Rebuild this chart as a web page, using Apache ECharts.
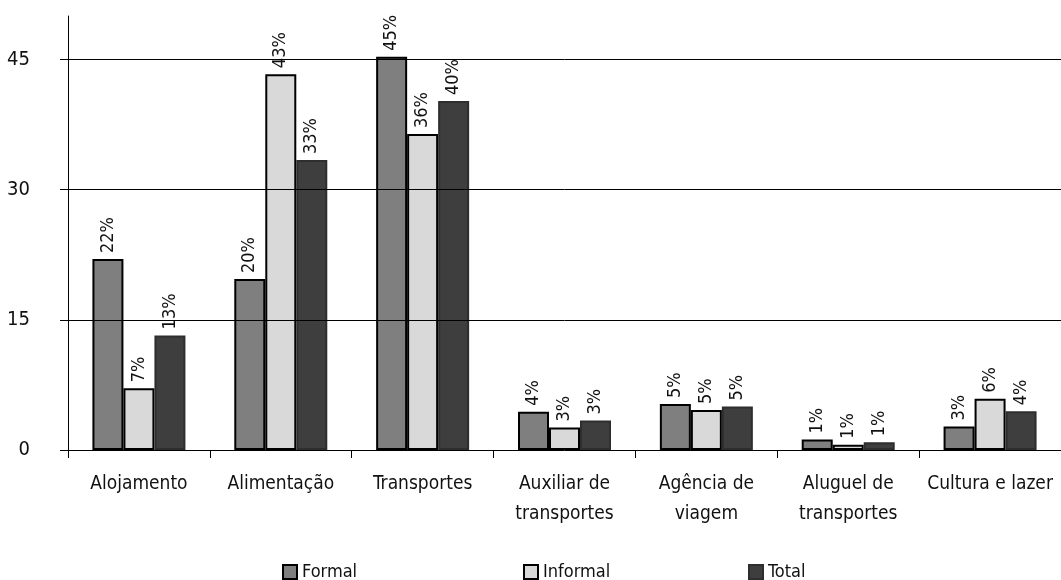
<!DOCTYPE html>
<html>
<head>
<meta charset="utf-8">
<script src="https://cdn.jsdelivr.net/npm/echarts@6/dist/echarts.min.js"></script>
<style>
  html, body { margin: 0; padding: 0; background: #fff; }
  #chart { width: 1061px; height: 580px; }
</style>
</head>
<body>
<div id="chart"></div>
<script>
// Share of tourism employment by activity (%)
const categories = [
  'Alojamento', 'Alimentação', 'Transportes', 'Auxiliar de\ntransportes',
  'Agência de\nviagem', 'Aluguel de\ntransportes', 'Cultura e lazer'
];
const formal   = [22.0, 19.7, 45.3, 4.4, 5.3, 1.2, 2.7];
const informal = [7.1, 43.3, 36.4, 2.6, 4.6, 0.6, 5.9];
const total    = [13.2, 33.4, 40.2, 3.4, 5.0, 0.9, 4.45];
const yTicks   = [0, 15, 30, 45];

const FONT = "'Liberation Sans Narrow', 'DejaVu Sans Condensed', 'Noto Sans', sans-serif";

const chart = echarts.init(document.getElementById('chart'));

const pctLabel = {
  show: true,
  position: 'top',
  rotate: 90,
  align: 'left',
  verticalAlign: 'middle',
  distance: 6,
  fontFamily: FONT,
  fontSize: 18,
  color: '#111',
  formatter: p => Math.round(p.value) + '%'
};

function barSeries(name, data, fill, border) {
  return {
    name: name,
    type: 'bar',
    data: data,
    barWidth: 31,
    barGap: '0%',
    itemStyle: { color: fill, borderColor: border, borderWidth: 2 },
    label: pctLabel,
    emphasis: { disabled: true }
  };
}

const series = [
  barSeries('Formal', formal, '#7f7f7f', '#000'),
  barSeries('Informal', informal, '#d9d9d9', '#000'),
  barSeries('Total', total, '#3e3e3e', '#2e2e2e')
];
// horizontal reference lines at each labelled value
series[0].markLine = {
  silent: true,
  symbol: 'none',
  label: { show: false },
  lineStyle: { color: '#000', width: 1, type: 'solid' },
  data: yTicks.slice(1).map(v => ({ yAxis: v }))
};

function legendAt(name, left) {
  return {
    data: [name],
    left: left,
    top: 558,
    icon: 'rect',
    itemWidth: 14,
    itemHeight: 14,
    itemGap: 4,
    textStyle: { fontFamily: FONT, fontSize: 18, color: '#111', padding: [2, 0, 0, 0] },
    selectedMode: false
  };
}

chart.setOption({
  animation: false,
  backgroundColor: '#fff',
  grid: { left: 68, right: -10, top: 16, bottom: 130, containLabel: false },
  legend: [
    legendAt('Formal', 277),
    legendAt('Informal', 518),
    legendAt('Total', 743)
  ],
  xAxis: {
    type: 'category',
    data: categories,
    axisLine: { lineStyle: { color: '#000', width: 1 } },
    axisTick: { show: true, length: 8, lineStyle: { color: '#000' } },
    axisLabel: {
      fontFamily: FONT, fontSize: 19, color: '#111',
      margin: 19, lineHeight: 30, interval: 0
    }
  },
  yAxis: {
    type: 'value',
    min: 0,
    max: 50,
    interval: 15,
    axisLine: { show: true, lineStyle: { color: '#000', width: 1 } },
    axisTick: { show: true, length: 8, lineStyle: { color: '#000' }, customValues: yTicks },
    axisLabel: {
      fontFamily: FONT, fontSize: 20, color: '#111', margin: 38,
      customValues: yTicks
    },
    splitLine: { show: false }
  },
  series: series
});
</script>
</body>
</html>
